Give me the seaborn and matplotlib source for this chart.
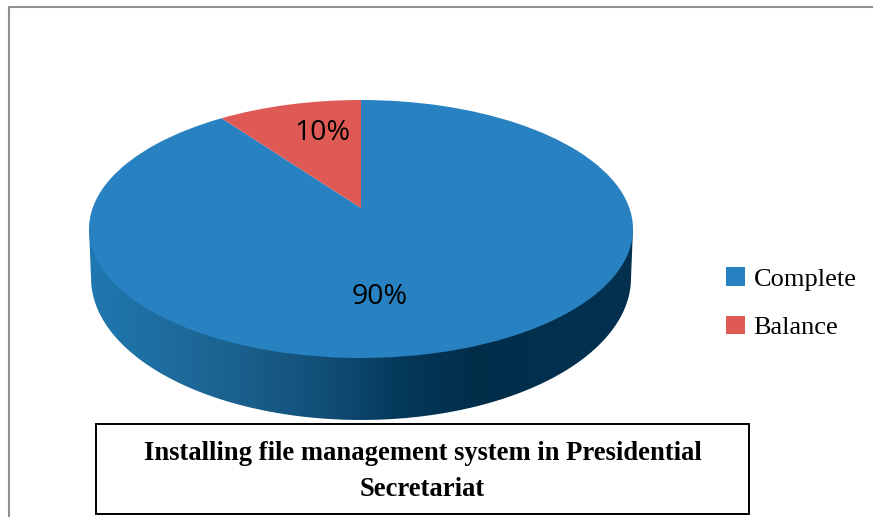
import numpy as np
import matplotlib
matplotlib.use("Agg")
import matplotlib.pyplot as plt
import seaborn as sns
from matplotlib.colors import LinearSegmentedColormap
from matplotlib.patches import Rectangle
from matplotlib.path import Path
from matplotlib.transforms import Transform

categories = ["Complete", "Balance"]
values = [90, 10]
slice_colors = ["#2882c2", "#e05a55"]
title_lines = ["Installing file management system in Presidential", "Secretariat"]
side_shade = ["#1f78b0", "#1e6c9e", "#1a5f8b", "#124f78", "#05395b", "#022d49", "#03304e", "#03304e"]

W, H = 873, 517
CX, CY, RX, RY = 361, 229, 272, 129   # top ellipse in pixels
TILT = 21 / 129                       # perspective shift of the pie centre


def dx(px):
    return (px - CX) / RX


def dy(py):
    return (CY - py) / RY


class Perspective(Transform):
    """Projects the flat pie disc on the tilted top of the cylinder."""
    input_dims = output_dims = 2

    def transform_non_affine(self, pts):
        pts = np.asarray(pts, float)
        x, y = pts[:, 0], pts[:, 1]
        w = 1 + TILT * y
        return np.column_stack([np.sqrt(1 - TILT ** 2) * x / w, (y + TILT) / w])


sns.set_theme(style="white")
fig = plt.figure(figsize=(W / 100, H / 100), dpi=100, facecolor="white")
ax = fig.add_axes([0, 0, 1, 1])

wedges, _, autotexts = ax.pie(
    values, colors=sns.color_palette(slice_colors), startangle=90, counterclock=False,
    autopct="%d%%", wedgeprops=dict(linewidth=0, zorder=3),
    textprops=dict(family="Open Sans", fontsize=20.5, color="black", zorder=4),
)
ax.set_aspect("auto")
ax.set_xlim(dx(0), dx(W))
ax.set_ylim(dy(H), dy(0))
ax.set_xticks([])
ax.set_yticks([])

project = Perspective() + ax.transData
for w in wedges:
    w.set_transform(project)
autotexts[0].set_position((dx(380), dy(297)))
autotexts[1].set_position((dx(322), dy(133)))

# cylinder side: gradient clipped by the lower outline
t = np.linspace(np.pi, 2 * np.pi, 200)
bottom = np.column_stack([dx(CX + 270 * np.cos(t)), dy(278 - 142 * np.sin(t))])
outline = np.vstack([[[-1, 0]], bottom, [[1, 0]], [[-1, 0]]])
cmap = LinearSegmentedColormap.from_list("side", side_shade)
im = ax.imshow(np.linspace(0, 1, 256)[None, :], cmap=cmap, aspect="auto",
               extent=(-1, 1, dy(430), 0), zorder=1, interpolation="bilinear")
im.set_clip_path(Path(outline), ax.transData)
ax.set_xlim(dx(0), dx(W))
ax.set_ylim(dy(H), dy(0))

# outer frame
fig.add_artist(plt.Line2D([9 / W, 9 / W, 1], [0, 1 - 7 / H, 1 - 7 / H],
                          color="#8f9191", lw=1.5, transform=fig.transFigure))

# legend
leg = fig.legend(wedges, categories, loc="upper left", bbox_to_anchor=(717 / W, 1 - 258 / H),
                 frameon=False, prop=dict(family="Liberation Serif", size=19),
                 handlelength=0.7, handleheight=0.7, handletextpad=0.34,
                 labelspacing=0.95, borderpad=0.35, borderaxespad=0)
for txt in leg.get_texts():
    txt.set_color("black")

# title box
fig.add_artist(Rectangle((96 / W, 1 - 514 / H), 653 / W, 90 / H, transform=fig.transFigure,
                         facecolor="white", edgecolor="black", lw=1.4))
for line, py in zip(title_lines, [454, 489]):
    fig.text(422.5 / W, 1 - py / H, line, ha="center", va="center",
             family="Liberation Serif", weight="bold", fontsize=19.2, color="black")

fig.savefig("out.png", dpi=100)
